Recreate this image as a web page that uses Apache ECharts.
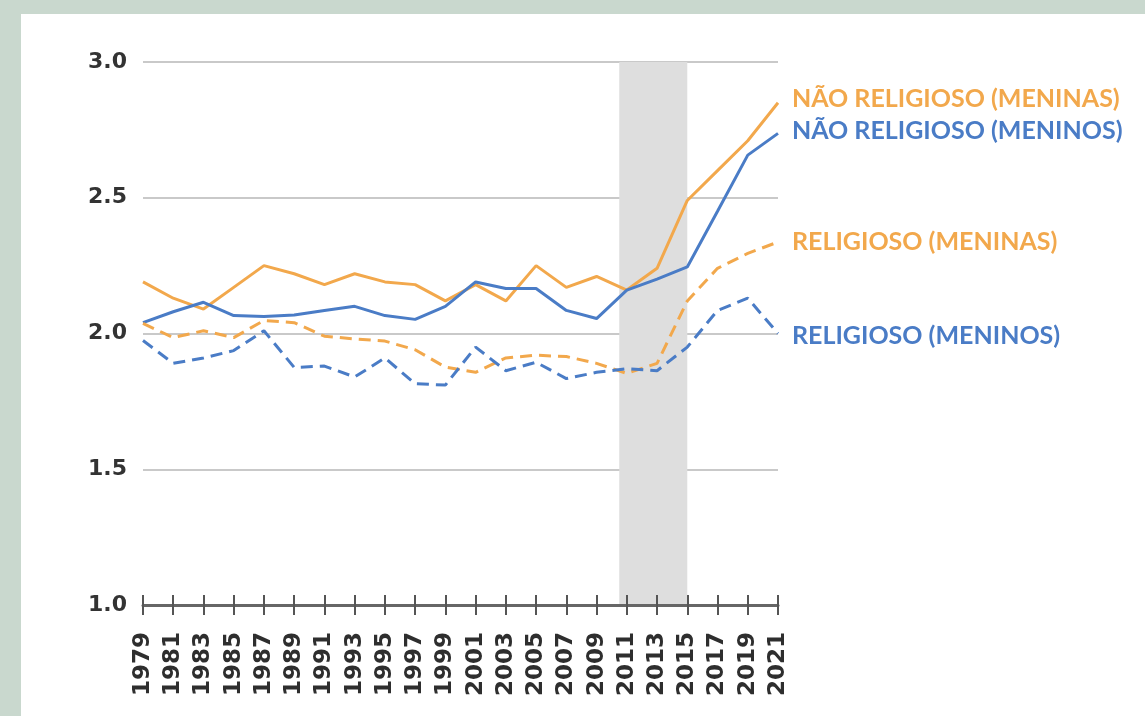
<!DOCTYPE html>
<html>
<head>
<meta charset="utf-8">
<script src="https://cdn.jsdelivr.net/npm/echarts@6/dist/echarts.min.js"></script>
<style>
  html, body { margin: 0; padding: 0; }
  body { width: 1145px; height: 716px; background: #c9d8ce; position: relative; overflow: hidden; }
  #panel { position: absolute; left: 21px; top: 14px; right: 0; bottom: 0; background: #fff; }
  #chart { position: absolute; left: 0; top: 0; width: 1145px; height: 716px; }
</style>
</head>
<body>
<div id="panel"></div>
<div id="chart"></div>
<script>
// anos (a cada dois anos)
var years = ["1979", "1981", "1983", "1985", "1987", "1989", "1991", "1993", "1995", "1997", "1999",
  "2001", "2003", "2005", "2007", "2009", "2011", "2013", "2015", "2017", "2019", "2021"];

var naoReligMeninas = [2.19, 2.13, 2.09, 2.17, 2.25, 2.22, 2.18, 2.22, 2.19, 2.18, 2.12,
  2.18, 2.12, 2.25, 2.17, 2.21, 2.16, 2.24, 2.49, 2.60, 2.71, 2.85];
var naoReligMeninos = [2.04, 2.08, 2.115, 2.066, 2.063, 2.068, 2.085, 2.10, 2.066, 2.052, 2.10,
  2.19, 2.166, 2.166, 2.085, 2.055, 2.16, 2.20, 2.245, 2.45, 2.657, 2.737];
var religMeninas = [2.037, 1.985, 2.01, 1.985, 2.048, 2.04, 1.99, 1.98, 1.972, 1.94, 1.876,
  1.857, 1.91, 1.92, 1.915, 1.89, 1.853, 1.89, 2.12, 2.24, 2.295, 2.337];
var religMeninos = [1.974, 1.89, 1.91, 1.937, 2.01, 1.875, 1.88, 1.84, 1.91, 1.815, 1.81,
  1.95, 1.863, 1.894, 1.834, 1.857, 1.87, 1.863, 1.95, 2.085, 2.13, 2.0];

var seriesNames = ["NÃO RELIGIOSO (MENINAS)", "NÃO RELIGIOSO (MENINOS)", "RELIGIOSO (MENINAS)", "RELIGIOSO (MENINOS)"];
var yTicks = [1.0, 1.5, 2.0, 2.5, 3.0];
var shadedSpan = [2010.5, 2015]; // faixa cinza

var orange = "#f2a84c";
var blue = "#4a7cc6";

var myChart = echarts.init(document.getElementById("chart"));

var gridBox = { left: 143, right: 367, top: 62, bottom: 111 };

function makeLine(name, data, color, dashed, labelOffset) {
  return {
    name: name,
    type: "line",
    xAxisIndex: 0,
    yAxisIndex: 0,
    data: data,
    symbol: "none",
    smooth: false,
    lineStyle: { color: color, width: 3, type: dashed ? [12, 7] : "solid" },
    endLabel: {
      show: true,
      formatter: "{a}",
      color: color,
      fontFamily: "Lato",
      fontWeight: "bold",
      fontSize: 25,
      distance: 14,
      offset: labelOffset || [0, 0]
    },
    z: 3
  };
}

var series = [
  makeLine(seriesNames[0], naoReligMeninas, orange, false, [0, -4]),
  makeLine(seriesNames[1], naoReligMeninos, blue, false, [0, -2]),
  makeLine(seriesNames[2], religMeninas, orange, true),
  makeLine(seriesNames[3], religMeninos, blue, true, [0, 2]),
  {
    // só para a faixa cinza
    name: "faixa",
    type: "line",
    xAxisIndex: 2,
    yAxisIndex: 1,
    data: [],
    silent: true,
    z: 1,
    markArea: {
      silent: true,
      itemStyle: { color: "#dedede" },
      data: [[{ xAxis: shadedSpan[0] }, { xAxis: shadedSpan[1] }]]
    }
  }
];

var option = {
  backgroundColor: "transparent",
  animation: false,
  grid: [
    Object.assign({}, gridBox),
    Object.assign({}, gridBox)
  ],
  xAxis: [
    {
      // ticks compridos que cruzam a linha do eixo
      type: "category",
      gridIndex: 0,
      data: years,
      boundaryGap: false,
      offset: -10,
      axisLine: { show: false },
      axisTick: { show: true, interval: 0, length: 20, lineStyle: { color: "#555", width: 2 } },
      axisLabel: {
        interval: 0,
        rotate: 90,
        margin: 37,
        color: "#2e2e2e",
        fontFamily: "DejaVu Sans",
        fontWeight: "bold",
        fontSize: 23
      },
      splitLine: { show: false },
      z: 5
    },
    {
      // linha do eixo em 1.0
      type: "category",
      gridIndex: 1,
      data: years,
      boundaryGap: false,
      position: "bottom",
      axisLine: { show: true, lineStyle: { color: "#666", width: 3 } },
      axisTick: { show: false },
      axisLabel: { show: false },
      splitLine: { show: false },
      z: 5
    },
    {
      type: "value",
      gridIndex: 1,
      position: "top",
      min: Number(years[0]),
      max: Number(years[years.length - 1]),
      show: false
    }
  ],
  yAxis: [
    {
      type: "value",
      gridIndex: 0,
      min: yTicks[0],
      max: yTicks[yTicks.length - 1],
      interval: 0.5,
      axisLine: { show: false },
      axisTick: { show: false },
      axisLabel: {
        margin: 16,
        color: "#333",
        fontFamily: "DejaVu Sans",
        fontWeight: "bold",
        fontSize: 22,
        formatter: function (v) { return v.toFixed(1); }
      },
      splitLine: { lineStyle: { color: "#c9c9c9", width: 2 } }
    },
    {
      type: "value",
      gridIndex: 1,
      min: yTicks[0],
      max: yTicks[yTicks.length - 1],
      show: false
    }
  ],
  series: series
};

myChart.setOption(option);
</script>
</body>
</html>
